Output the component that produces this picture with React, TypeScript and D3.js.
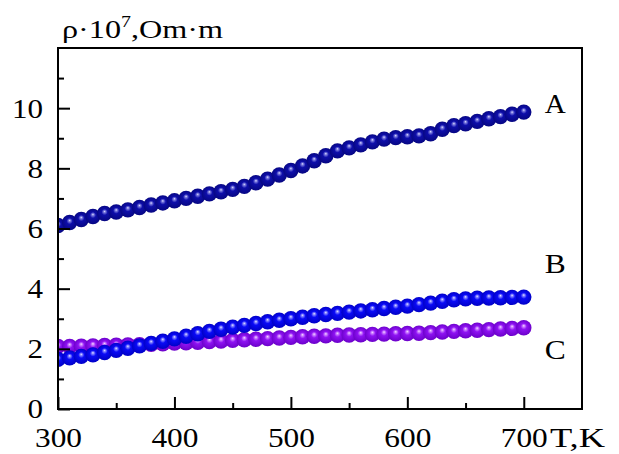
import React, { useRef, useEffect } from "react";
import * as d3 from "d3";

// temperature points, K
const temps = [
  300, 310, 320, 330, 340, 350, 360, 370, 380, 390, 400, 410, 420, 430, 440, 450, 460, 470, 480, 490,
  500, 510, 520, 530, 540, 550, 560, 570, 580, 590, 600, 610, 620, 630, 640, 650, 660, 670, 680, 690, 700,
];

const seriesA = [
  6.1, 6.2, 6.3, 6.4, 6.5, 6.55, 6.62, 6.7, 6.78, 6.85, 6.92, 7.0, 7.07, 7.15, 7.22, 7.3, 7.4, 7.52, 7.64, 7.78,
  7.93, 8.08, 8.25, 8.42, 8.58, 8.68, 8.78, 8.88, 8.97, 9.02, 9.05, 9.08, 9.15, 9.3, 9.42, 9.48, 9.56, 9.65, 9.72, 9.8, 9.87,
];
const seriesB = [
  1.65, 1.7, 1.75, 1.8, 1.88, 1.95, 2.02, 2.1, 2.18, 2.25, 2.33, 2.42, 2.5, 2.58, 2.65, 2.72, 2.78, 2.84, 2.9, 2.95,
  3.0, 3.05, 3.1, 3.14, 3.18, 3.22, 3.26, 3.3, 3.34, 3.38, 3.42, 3.47, 3.52, 3.58, 3.63, 3.66, 3.68, 3.69, 3.7, 3.71, 3.72,
];
const seriesC = [
  2.08, 2.08, 2.09, 2.1, 2.11, 2.12, 2.13, 2.14, 2.15, 2.17, 2.19, 2.2, 2.22, 2.24, 2.26, 2.28, 2.3, 2.32, 2.34, 2.36,
  2.38, 2.4, 2.42, 2.43, 2.45, 2.46, 2.47, 2.48, 2.49, 2.5, 2.51, 2.52, 2.54, 2.56, 2.58, 2.6, 2.62, 2.64, 2.66, 2.68, 2.7,
];

const xMajor = [300, 400, 500, 600, 700];
const xMinor = [350, 450, 550, 650];
const yMajor = [0, 2, 4, 6, 8, 10];
const yMinor = [1, 3, 5, 7, 9, 11];

const curveNames = ["A", "B", "C"];
const curveLabelY = [9.83, 4.52, 1.66];

const W = 619;
const H = 454;
const FONT = "'Liberation Serif', 'Times New Roman', serif";

const App = () => {
  const ref = useRef(null);

  useEffect(() => {
    if (!ref.current) return;
    const svg = d3.select(ref.current);
    svg.selectAll("*").remove();

    const left = 58, right = 582, top = 48, bottom = 409;

    const x = d3.scaleLinear().domain([300, 750]).range([left, right]);
    const y = d3.scaleLinear().domain([0, 12]).range([bottom, top]);

    const defs = svg.append("defs");
    defs.append("clipPath").attr("id", "plotClip")
      .append("rect")
      .attr("x", left).attr("y", top)
      .attr("width", right - left).attr("height", bottom - top);

    const makeGrad = (id, hi, mid, base, dark) => {
      const g = defs.append("radialGradient")
        .attr("id", id)
        .attr("cx", "50%").attr("cy", "50%").attr("r", "52%")
        .attr("fx", "50%").attr("fy", "36%");
      g.append("stop").attr("offset", "0%").attr("stop-color", hi);
      g.append("stop").attr("offset", "13%").attr("stop-color", mid);
      g.append("stop").attr("offset", "38%").attr("stop-color", base);
      g.append("stop").attr("offset", "100%").attr("stop-color", dark);
    };
    makeGrad("gA", "#e4e4ff", "#7e7ee0", "#0e0eaa", "#060680");
    makeGrad("gB", "#ececff", "#8a8aff", "#0a0af6", "#0000c4");
    makeGrad("gC", "#fadcff", "#cf88ff", "#8e12f2", "#6a00c8");

    const plot = svg.append("g").attr("clip-path", "url(#plotClip)");
    const drawSeries = (vals, grad) => {
      plot.append("g")
        .selectAll("circle")
        .data(vals)
        .join("circle")
        .attr("cx", (d, i) => x(temps[i]))
        .attr("cy", (d) => y(d))
        .attr("r", 7.7)
        .attr("fill", `url(#${grad})`);
    };
    drawSeries(seriesA, "gA");
    drawSeries(seriesC, "gC");
    drawSeries(seriesB, "gB");

    // bottom axis
    const xAx = svg.append("g")
      .attr("transform", `translate(0,${bottom})`)
      .call(d3.axisBottom(x).tickValues(xMajor).tickSize(-12).tickPadding(18));
    xAx.select(".domain").remove();
    xAx.selectAll(".tick line").attr("stroke", "#000").attr("stroke-width", 2);
    xAx.selectAll(".tick text")
      .attr("fill", "#000")
      .style("font-family", FONT)
      .style("font-size", "28px")
      .attr("textLength", 47)
      .attr("lengthAdjust", "spacingAndGlyphs");

    const xMin = svg.append("g")
      .attr("transform", `translate(0,${bottom})`)
      .call(d3.axisBottom(x).tickValues(xMinor).tickSize(-6).tickFormat(() => ""));
    xMin.select(".domain").remove();
    xMin.selectAll(".tick line").attr("stroke", "#000").attr("stroke-width", 2);

    // left axis
    const yAx = svg.append("g")
      .attr("transform", `translate(${left},0)`)
      .call(d3.axisLeft(y).tickValues(yMajor).tickSize(-12).tickPadding(15));
    yAx.select(".domain").remove();
    yAx.selectAll(".tick line").attr("stroke", "#000").attr("stroke-width", 2);
    yAx.selectAll(".tick text")
      .attr("fill", "#000")
      .style("font-family", FONT)
      .style("font-size", "28px")
      .attr("textLength", (d) => String(d).length * 15.5)
      .attr("lengthAdjust", "spacingAndGlyphs");

    const yMin = svg.append("g")
      .attr("transform", `translate(${left},0)`)
      .call(d3.axisLeft(y).tickValues(yMinor).tickSize(-6).tickFormat(() => ""));
    yMin.select(".domain").remove();
    yMin.selectAll(".tick line").attr("stroke", "#000").attr("stroke-width", 2);

    // frame
    svg.append("rect")
      .attr("x", left).attr("y", top)
      .attr("width", right - left).attr("height", bottom - top)
      .attr("fill", "none").attr("stroke", "#000").attr("stroke-width", 2);

    // axis titles
    const yt = svg.append("text")
      .attr("x", 62).attr("y", 38)
      .attr("fill", "#000")
      .style("font-family", FONT)
      .style("font-size", "26px")
      .attr("textLength", 161)
      .attr("lengthAdjust", "spacingAndGlyphs");
    yt.append("tspan").text("ρ·10");
    yt.append("tspan").attr("dy", -11).style("font-size", "16px").text("7");
    yt.append("tspan").attr("dy", 11).text(",Om·m");

    svg.append("text")
      .attr("x", 550).attr("y", 447)
      .attr("fill", "#000")
      .style("font-family", FONT)
      .style("font-size", "28px")
      .attr("textLength", 55)
      .attr("lengthAdjust", "spacingAndGlyphs")
      .text("T,K");

    // curve labels
    svg.append("g")
      .selectAll("text")
      .data(curveNames)
      .join("text")
      .attr("x", x(718))
      .attr("y", (d, i) => y(curveLabelY[i]))
      .attr("fill", "#000")
      .style("font-family", FONT)
      .style("font-size", "28px")
      .attr("textLength", 21)
      .attr("lengthAdjust", "spacingAndGlyphs")
      .text((d) => d);
  }, []);

  return (
    <svg
      ref={ref}
      width={W}
      height={H}
      style={{ position: "absolute", left: 0, top: 0, background: "#fff" }}
    />
  );
};

export default App;
